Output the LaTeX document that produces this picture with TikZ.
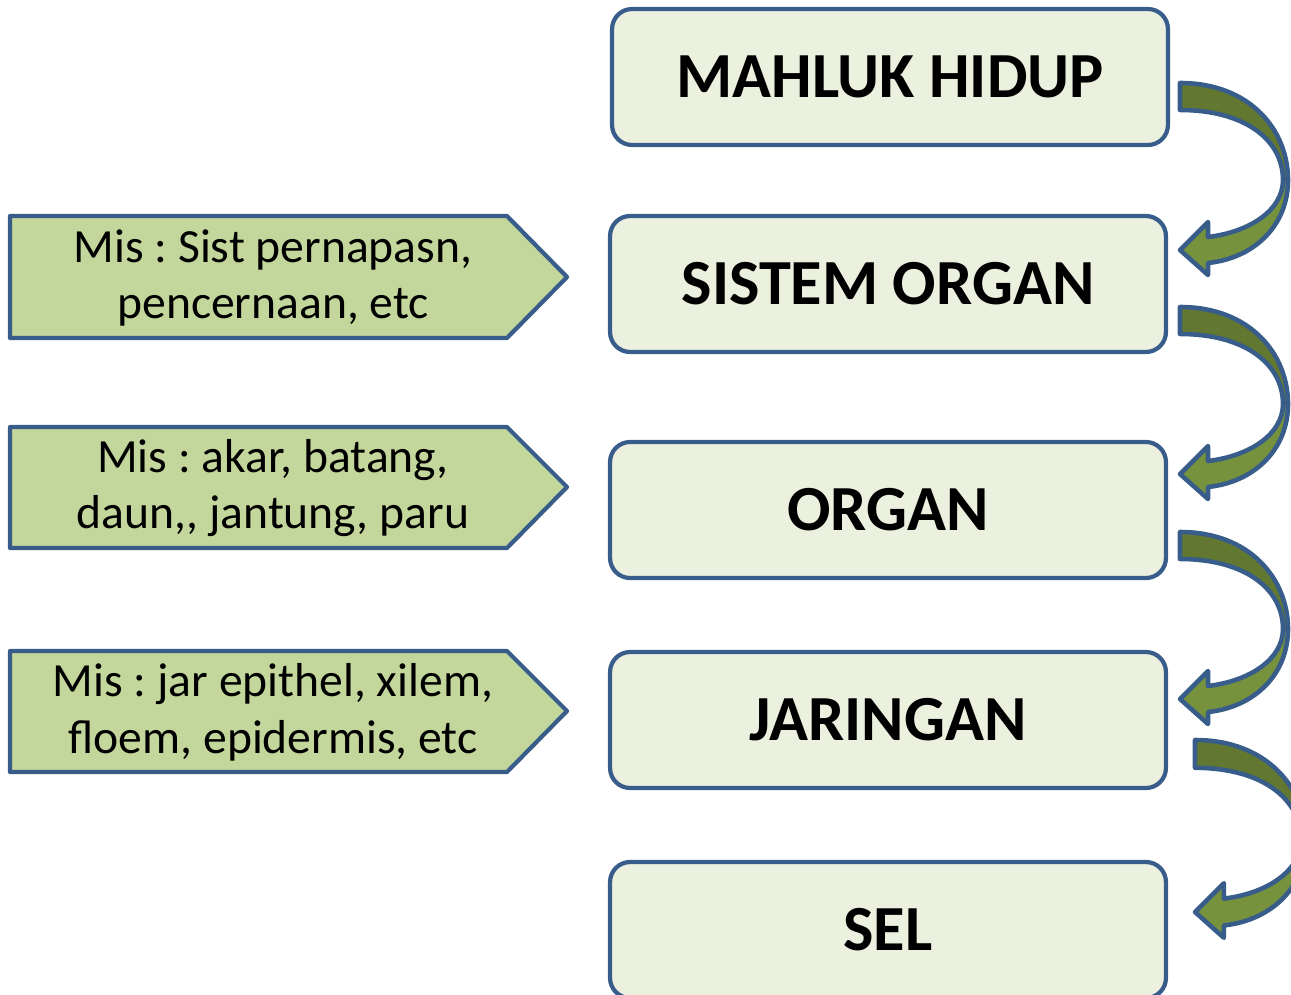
\documentclass[tikz,border=0pt]{standalone}
\usepackage{fontspec}
\setmainfont{Carlito}
\frenchspacing
\usetikzlibrary{positioning}
\definecolor{BoxBorder}{HTML}{385D8A}
\definecolor{LevelFill}{HTML}{EBF1DE}
\definecolor{NoteFill}{HTML}{C3D69B}
\definecolor{ArrowDark}{HTML}{627830}
\definecolor{ArrowLight}{HTML}{76923C}

\tikzset{
  level/.style={draw=BoxBorder, line width=2.4pt, fill=LevelFill,
    rounded corners=0.4cm, minimum width=11.12cm, minimum height=2.72cm,
    font=\fontsize{36.6}{44}\selectfont\bfseries},
  notebox/.style={draw=BoxBorder, line width=2.4pt, fill=NoteFill, line join=round},
  note/.style={align=center, font=\fontsize{27.1}{32.3}\selectfont},
  bendarrow/.pic={
    % bagian atas (gelap)
    \fill[ArrowDark] (0,0) .. controls (70,0) and (108,47) .. (108,97)
      -- (103,97) .. controls (103,57) and (65,27) .. (0,27) -- cycle;
    % bagian bawah dengan kepala panah
    \fill[ArrowLight] (108,97) .. controls (108,142) and (75,175) .. (28,180)
      -- (28,192) -- (0,167) -- (28,139) -- (28,154)
      .. controls (70,149) and (103,127) .. (103,97) -- cycle;
    \draw[BoxBorder, line width=2.6pt, line join=round]
      (0,0) .. controls (70,0) and (108,47) .. (108,97)
      .. controls (108,142) and (75,175) .. (28,180)
      -- (28,192) -- (0,167) -- (28,139) -- (28,154)
      .. controls (70,149) and (103,127) .. (103,97)
      .. controls (103,57) and (65,27) .. (0,27) -- cycle;
  }
}

\begin{document}
\begin{tikzpicture}[x=0.02cm, y=-0.02cm]

    \useasboundingbox (0,0) rectangle (1291,994);
    \clip (0,0) rectangle (1291,994);

    % Tingkatan organisasi
    \node[level] (mahluk)   at (890,77)  {MAHLUK HIDUP};
    \node[level] (sistem)   at (888,284) {SISTEM ORGAN};
    \node[level] (organ)    at (888,510) {ORGAN};
    \node[level] (jaringan) at (888,720) {JARINGAN};
    \node[level] (sel)      at (888,930) {SEL};

    % Contoh
    \draw[notebox] (10,216) -- (507,216) -- (567,277) -- (507,338) -- (10,338) -- cycle;
    \draw[notebox] (10,427) -- (507,427) -- (567,487) -- (507,548) -- (10,548) -- cycle;
    \draw[notebox] (10,651) -- (507,651) -- (567,711) -- (507,772) -- (10,772) -- cycle;

    \node[note] (contoh1) at (273,278) {Mis : Sist pernapasn,\\pencernaan, etc};
    \node[note] (contoh2) at (273,488) {Mis : akar, batang,\\daun,{},{} jantung, paru};
    \node[note] (contoh3) at (273,712) {Mis : jar epithel, xilem,\\floem, epidermis, etc};

    % Panah melengkung
    \pic at (1180,83)  {bendarrow};
    \pic at (1180,307) {bendarrow};
    \pic at (1180,532) {bendarrow};
    \pic[scale=1.03] at (1195,740) {bendarrow};
\end{tikzpicture}
\end{document}
